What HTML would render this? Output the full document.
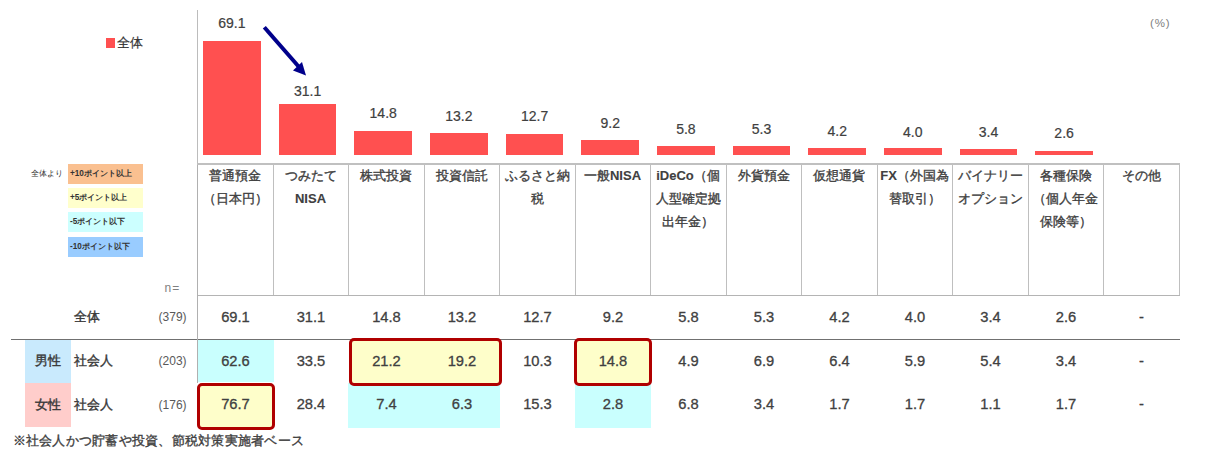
<!DOCTYPE html>
<html><head><meta charset="utf-8"><title>chart</title>
<style>
html,body{margin:0;padding:0;background:#fff;}
body{width:1224px;height:453px;overflow:hidden;position:relative;font-family:"Liberation Sans",sans-serif;color:#404040;}
.a{position:absolute;}
.bar{position:absolute;background:#FF5050;}
.lab{position:absolute;width:80px;text-align:center;font-size:14px;line-height:14px;color:#404040;-webkit-text-stroke:0.2px #404040;}
.hl{position:absolute;width:75px;text-align:center;font-size:13px;line-height:23px;color:#404040;-webkit-text-stroke:0.35px #404040;white-space:nowrap;}
.hl b{-webkit-text-stroke:0.1px #404040;}
.vl{position:absolute;width:1px;background:#bfbfbf;}
.num{position:absolute;width:76px;text-align:center;font-size:14.7px;line-height:15px;color:#404040;-webkit-text-stroke:0.3px #404040;}
.box{position:absolute;border:3px solid #B00000;border-radius:5px;box-sizing:border-box;background:#FEFECA;}
.lg{position:absolute;left:68px;width:75px;height:19.5px;font-size:8.2px;line-height:19.5px;font-weight:bold;color:#333;}
.rl{position:absolute;font-size:13px;line-height:15px;color:#383838;-webkit-text-stroke:0.4px #383838;}
.nn{position:absolute;left:158.6px;font-size:12px;line-height:14px;color:#595959;}
</style></head><body>

<div class="a" style="left:105.7px;top:38.1px;width:9.5px;height:9.5px;background:#FF5050"></div>
<div class="a" style="left:116.5px;top:35px;font-size:13px;line-height:15px;color:#333;-webkit-text-stroke:0.2px #333">全体</div>
<div class="a" style="left:1150px;top:16px;font-size:11.5px;line-height:14px;letter-spacing:0.8px;color:#7f7f7f">(%)</div>
<div class="a" style="left:197px;top:10px;width:1px;height:153px;background:#bcbcbc"></div>
<div class="bar" style="left:203.1px;top:41.3px;width:57.7px;height:113.7px"></div>
<div class="lab" style="left:191.9px;top:16.4px">69.1</div>
<div class="bar" style="left:278.8px;top:103.8px;width:57.7px;height:51.2px"></div>
<div class="lab" style="left:267.6px;top:83.6px">31.1</div>
<div class="bar" style="left:354.4px;top:130.6px;width:57.7px;height:24.4px"></div>
<div class="lab" style="left:343.2px;top:106.2px">14.8</div>
<div class="bar" style="left:430.1px;top:133.3px;width:57.7px;height:21.7px"></div>
<div class="lab" style="left:418.9px;top:109.1px">13.2</div>
<div class="bar" style="left:505.7px;top:134.1px;width:57.7px;height:20.9px"></div>
<div class="lab" style="left:494.6px;top:109.1px">12.7</div>
<div class="bar" style="left:581.4px;top:139.9px;width:57.7px;height:15.1px"></div>
<div class="lab" style="left:570.2px;top:115.5px">9.2</div>
<div class="bar" style="left:657.0px;top:145.5px;width:57.7px;height:9.5px"></div>
<div class="lab" style="left:645.9px;top:121.5px">5.8</div>
<div class="bar" style="left:732.7px;top:146.3px;width:57.7px;height:8.7px"></div>
<div class="lab" style="left:721.5px;top:122.2px">5.3</div>
<div class="bar" style="left:808.3px;top:148.1px;width:57.7px;height:6.9px"></div>
<div class="lab" style="left:797.2px;top:123.5px">4.2</div>
<div class="bar" style="left:884.0px;top:148.4px;width:57.7px;height:6.6px"></div>
<div class="lab" style="left:872.8px;top:124.5px">4.0</div>
<div class="bar" style="left:959.6px;top:149.4px;width:57.7px;height:5.6px"></div>
<div class="lab" style="left:948.5px;top:125.4px">3.4</div>
<div class="bar" style="left:1035.2px;top:150.7px;width:57.7px;height:4.3px"></div>
<div class="lab" style="left:1024.1px;top:126.3px">2.6</div>
<svg class="a" style="left:0;top:0" width="1224" height="453" viewBox="0 0 1224 453">
<line x1="264.3" y1="27.2" x2="299" y2="67" stroke="#00008B" stroke-width="4"/>
<polygon points="306,75.5 293,70.5 302,62" fill="#00008B"/>
</svg>
<div class="a" style="left:197px;top:163px;width:983px;height:2px;background:#c0c0c0"></div>
<div class="vl" style="left:273px;top:165px;height:130px"></div>
<div class="vl" style="left:348px;top:165px;height:130px"></div>
<div class="vl" style="left:424px;top:165px;height:130px"></div>
<div class="vl" style="left:499px;top:165px;height:130px"></div>
<div class="vl" style="left:575px;top:165px;height:130px"></div>
<div class="vl" style="left:650px;top:165px;height:130px"></div>
<div class="vl" style="left:726px;top:165px;height:130px"></div>
<div class="vl" style="left:801px;top:165px;height:130px"></div>
<div class="vl" style="left:877px;top:165px;height:130px"></div>
<div class="vl" style="left:952px;top:165px;height:130px"></div>
<div class="vl" style="left:1028px;top:165px;height:130px"></div>
<div class="vl" style="left:1103px;top:165px;height:130px"></div>
<div class="vl" style="left:1179px;top:165px;height:130px"></div>
<div class="a" style="left:197px;top:295px;width:983px;height:1px;background:#b4b4b4"></div>
<div class="hl" style="left:197.5px;top:163.8px">普通預金<br>（日本円）</div>
<div class="hl" style="left:273.0px;top:163.8px">つみたて<br><b>NISA</b></div>
<div class="hl" style="left:348.5px;top:163.8px">株式投資</div>
<div class="hl" style="left:424.0px;top:163.8px">投資信託</div>
<div class="hl" style="left:499.5px;top:163.8px">ふるさと納<br>税</div>
<div class="hl" style="left:575.0px;top:163.8px">一般<b>NISA</b></div>
<div class="hl" style="left:650.5px;top:163.8px"><b>iDeCo</b>（個<br>人型確定拠<br>出年金）</div>
<div class="hl" style="left:726.0px;top:163.8px">外貨預金</div>
<div class="hl" style="left:801.5px;top:163.8px">仮想通貨</div>
<div class="hl" style="left:877.0px;top:163.8px"><b>FX</b>（外国為<br>替取引）</div>
<div class="hl" style="left:952.5px;top:163.8px">バイナリー<br>オプション</div>
<div class="hl" style="left:1028.0px;top:163.8px">各種保険<br>（個人年金<br>保険等）</div>
<div class="hl" style="left:1103.5px;top:163.8px">その他</div>
<div class="a" style="left:164.5px;top:280.5px;font-size:12px;line-height:14px;letter-spacing:1px;color:#7f7f7f">n=</div>
<div class="a" style="left:198px;top:340px;width:76px;height:42px;background:#C9FFFE"></div>
<div class="a" style="left:348px;top:383px;width:77px;height:45px;background:#C9FFFE"></div>
<div class="a" style="left:424px;top:383px;width:76px;height:45px;background:#C9FFFE"></div>
<div class="a" style="left:575px;top:383px;width:76px;height:45px;background:#C9FFFE"></div>
<div class="a" style="left:11px;top:339px;width:1169px;height:1px;background:#707070"></div>
<div class="a" style="left:197px;top:165px;width:1px;height:218px;background:#b0b0b0"></div>
<div class="box" style="left:349px;top:338px;width:153px;height:48px"></div>
<div class="box" style="left:574px;top:338px;width:78px;height:48px"></div>
<div class="box" style="left:197px;top:383px;width:78px;height:47px"></div>
<div class="num" style="left:197.5px;top:309.8px">69.1</div>
<div class="num" style="left:273.0px;top:309.8px">31.1</div>
<div class="num" style="left:348.5px;top:309.8px">14.8</div>
<div class="num" style="left:424.0px;top:309.8px">13.2</div>
<div class="num" style="left:499.5px;top:309.8px">12.7</div>
<div class="num" style="left:575.0px;top:309.8px">9.2</div>
<div class="num" style="left:650.5px;top:309.8px">5.8</div>
<div class="num" style="left:726.0px;top:309.8px">5.3</div>
<div class="num" style="left:801.5px;top:309.8px">4.2</div>
<div class="num" style="left:877.0px;top:309.8px">4.0</div>
<div class="num" style="left:952.5px;top:309.8px">3.4</div>
<div class="num" style="left:1028.0px;top:309.8px">2.6</div>
<div class="num" style="left:1103.5px;top:309.8px">-</div>
<div class="num" style="left:197.5px;top:354.2px">62.6</div>
<div class="num" style="left:273.0px;top:354.2px">33.5</div>
<div class="num" style="left:348.5px;top:354.2px">21.2</div>
<div class="num" style="left:424.0px;top:354.2px">19.2</div>
<div class="num" style="left:499.5px;top:354.2px">10.3</div>
<div class="num" style="left:575.0px;top:354.2px">14.8</div>
<div class="num" style="left:650.5px;top:354.2px">4.9</div>
<div class="num" style="left:726.0px;top:354.2px">6.9</div>
<div class="num" style="left:801.5px;top:354.2px">6.4</div>
<div class="num" style="left:877.0px;top:354.2px">5.9</div>
<div class="num" style="left:952.5px;top:354.2px">5.4</div>
<div class="num" style="left:1028.0px;top:354.2px">3.4</div>
<div class="num" style="left:1103.5px;top:354.2px">-</div>
<div class="num" style="left:197.5px;top:397.2px">76.7</div>
<div class="num" style="left:273.0px;top:397.2px">28.4</div>
<div class="num" style="left:348.5px;top:397.2px">7.4</div>
<div class="num" style="left:424.0px;top:397.2px">6.3</div>
<div class="num" style="left:499.5px;top:397.2px">15.3</div>
<div class="num" style="left:575.0px;top:397.2px">2.8</div>
<div class="num" style="left:650.5px;top:397.2px">6.8</div>
<div class="num" style="left:726.0px;top:397.2px">3.4</div>
<div class="num" style="left:801.5px;top:397.2px">1.7</div>
<div class="num" style="left:877.0px;top:397.2px">1.7</div>
<div class="num" style="left:952.5px;top:397.2px">1.1</div>
<div class="num" style="left:1028.0px;top:397.2px">1.7</div>
<div class="num" style="left:1103.5px;top:397.2px">-</div>
<div class="rl" style="left:73.8px;top:309px">全体</div>
<div class="nn" style="top:310px">(379)</div>
<div class="a" style="left:25px;top:340px;width:46px;height:43px;background:#C9EAFD"></div>
<div class="a" style="left:25px;top:383px;width:46px;height:44px;background:#FFCDCB"></div>
<div class="rl" style="left:25px;top:353px;width:46px;text-align:center">男性</div>
<div class="rl" style="left:25px;top:397px;width:46px;text-align:center">女性</div>
<div class="rl" style="left:73.8px;top:353px">社会人</div>
<div class="rl" style="left:73.8px;top:397px">社会人</div>
<div class="nn" style="top:354px">(203)</div>
<div class="nn" style="top:398px">(176)</div>
<div class="a" style="left:31.2px;top:168px;font-size:7.5px;line-height:12px;color:#333">全体より</div>
<div class="lg" style="top:164px;background:#FAC090"><span style="padding-left:2px">+10ポイント以上</span></div>
<div class="lg" style="top:188px;background:#FFFFCC"><span style="padding-left:2px">+5ポイント以上</span></div>
<div class="lg" style="top:212.3px;background:#CCFFFF"><span style="padding-left:2px">-5ポイント以下</span></div>
<div class="lg" style="top:237.3px;background:#99CCFF"><span style="padding-left:2px">-10ポイント以下</span></div>
<div class="a" style="left:12.6px;top:433px;font-size:13px;line-height:16px;letter-spacing:0.25px;color:#404040;-webkit-text-stroke:0.35px #404040;white-space:nowrap">※社会人かつ貯蓄や投資、節税対策実施者ベース</div>
</body></html>
